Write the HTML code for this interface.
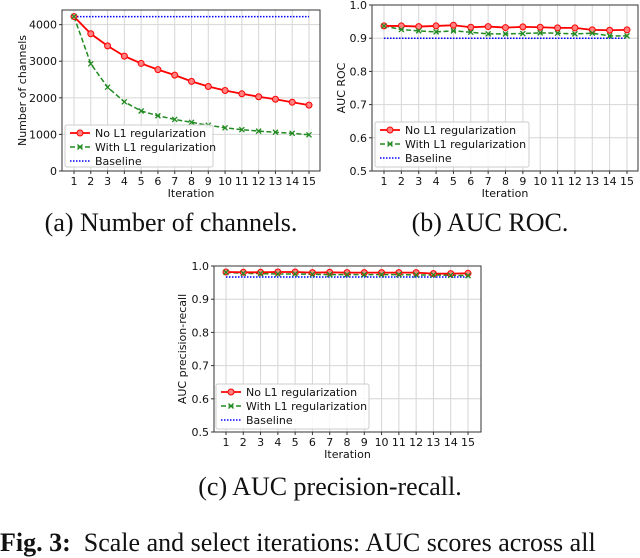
<!DOCTYPE html>
<html><head><meta charset="utf-8">
<style>
html,body{margin:0;padding:0;background:#fff;width:640px;height:536px;overflow:hidden}
svg{position:absolute;left:0;top:0}
.cap{position:absolute;font-family:"Liberation Serif",serif;font-size:26px;color:#111;white-space:nowrap;transform:translateX(-50%)}
</style></head><body>
<svg id="chart" width="640" height="536"></svg>
<div class="cap" style="left:171px;top:208px">(a) Number of channels.</div>
<div class="cap" style="left:490px;top:208px">(b) AUC ROC.</div>
<div class="cap" style="left:330px;top:472px">(c) AUC precision-recall.</div>
<div class="cap" style="left:0px;top:528px;transform:none"><b>Fig. 3:</b>&nbsp; Scale and select iterations: AUC scores across all</div>
<script>
const iterations=[1,2,3,4,5,6,7,8,9,10,11,12,13,14,15];
const chanNoL1=[4220,3750,3420,3140,2940,2770,2620,2450,2310,2200,2110,2030,1960,1880,1800];
const chanL1=[4220,2930,2290,1890,1640,1510,1410,1330,1250,1180,1130,1090,1060,1030,990];
const chanBase=[4220];
const chanTicks=[0,1000,2000,3000,4000];
const rocNoL1=[.937,.937,.935,.937,.939,.933,.935,.932,.934,.933,.931,.931,.925,.924,.925];
const rocL1=[.937,.926,.922,.919,.922,.918,.913,.913,.914,.916,.915,.913,.915,.907,.907];
const rocBase=[0.9];
const prNoL1=[.982,.981,.981,.982,.982,.980,.981,.980,.980,.980,.980,.980,.977,.977,.978];
const prL1=[.981,.978,.977,.976,.976,.975,.974,.974,.974,.974,.974,.973,.973,.972,.971];
const prBase=[0.967];
const aucTicks=[0.5,0.6,0.7,0.8,0.9,1.0];
const aucTickLabels=["0.5","0.6","0.7","0.8","0.9","1.0"];

const NS="http://www.w3.org/2000/svg";
const svg=document.getElementById('chart');
function mk(tag,attrs,parent){const e=document.createElementNS(NS,tag);for(const k in attrs)e.setAttribute(k,attrs[k]);(parent||svg).appendChild(e);return e;}
const F='"DejaVu Sans","Liberation Sans",sans-serif';

function drawChart(o){
  const g=mk('g',{});
  
  
  const xs=i=>o.x1+(i-1)*(o.x15-o.x1)/14;
  const ys=v=>o.bottom-(v-o.ymin)/(o.ymax-o.ymin)*(o.bottom-o.top);
  iterations.forEach(it=>{const l=mk('line',{x1:xs(it),x2:xs(it),y1:o.top,y2:o.bottom,stroke:'#d6d6d6','stroke-width':1},g);
    });
  o.ticks.forEach(t=>{const l=mk('line',{x1:o.left,x2:o.right,y1:ys(t),y2:ys(t),stroke:'#d6d6d6','stroke-width':1},g);
    });
  const fr=mk('rect',{x:o.left,y:o.top,width:o.right-o.left,height:o.bottom-o.top,fill:'none',stroke:'#333','stroke-width':1},g);
  
  iterations.forEach(it=>{mk('line',{x1:xs(it),x2:xs(it),y1:o.bottom,y2:o.bottom+3,stroke:'#333'},g);
    const t=mk('text',{x:xs(it),y:o.bottom+14,'font-family':F,'font-size':11,'text-anchor':'middle',fill:'#111'},g);t.textContent=it;
    });
  o.ticks.forEach((tv,i)=>{mk('line',{x1:o.left-3,x2:o.left,y1:ys(tv),y2:ys(tv),stroke:'#333'},g);
    const t=mk('text',{x:o.left-5,y:ys(tv)+4,'font-family':F,'font-size':11,'text-anchor':'end',fill:'#111'},g);t.textContent=o.tickLabels[i];
    });
  const xt=mk('text',{x:(o.left+o.right)/2,y:o.bottom+26,'font-family':F,'font-size':11,'text-anchor':'middle',fill:'#111'},g);xt.textContent='Iteration';
  
  const yt=mk('text',{x:0,y:0,'font-family':F,'font-size':11,'text-anchor':'middle',fill:'#111',transform:`translate(${o.ytx},${(o.top+o.bottom)/2}) rotate(-90)`},g);yt.textContent=o.ytitle;
  
  const bl=mk('line',{x1:xs(1),x2:xs(15),y1:ys(o.base[0]),y2:ys(o.base[0]),stroke:'#0000ff','stroke-width':1.5,'stroke-dasharray':'1.5,1.5'},g);
  
  const pg=mk('polyline',{points:o.l1.map((v,i)=>xs(iterations[i])+','+ys(v)).join(' '),fill:'none',stroke:'#228b22','stroke-width':1.5,'stroke-dasharray':'5,2.5'},g);
  
  const pr=mk('polyline',{points:o.no.map((v,i)=>xs(iterations[i])+','+ys(v)).join(' '),fill:'none',stroke:'#ff0000','stroke-width':1.8},g);
  
  o.no.forEach((v,i)=>{const c=mk('circle',{cx:xs(iterations[i]),cy:ys(v),r:3,fill:'#ff8080',stroke:'#ff0000','stroke-width':1},g);
    });
  o.l1.forEach((v,i)=>{const x=xs(iterations[i]),y=ys(v);const p=mk('path',{d:`M${x-2.5},${y-2.5}L${x+2.5},${y+2.5}M${x-2.5},${y+2.5}L${x+2.5},${y-2.5}`,stroke:'#228b22','stroke-width':1.3},g);
    });
  const L=o.leg;
  const lg=mk('g',{},g);
  mk('rect',{x:L.x,y:L.y,width:L.w,height:L.h,fill:'#fff','fill-opacity':0.85,stroke:'#ccc',rx:2},lg);
  const rows=[['No L1 regularization','red'],['With L1 regularization','green'],['Baseline','blue']];
  rows.forEach((r,i)=>{const yy=L.y+8+i*14;const e=mk('g',{},lg);
    
    const x0=L.x+5,x1=L.x+25;
    if(r[1]=='red'){mk('line',{x1:x0,x2:x1,y1:yy,y2:yy,stroke:'#f00','stroke-width':1.8},e);mk('circle',{cx:(x0+x1)/2,cy:yy,r:3,fill:'#ff8080',stroke:'#f00'},e);}
    if(r[1]=='green'){mk('line',{x1:x0,x2:x1,y1:yy,y2:yy,stroke:'#228b22','stroke-width':1.5,'stroke-dasharray':'5,2.5'},e);const c=(x0+x1)/2;mk('path',{d:`M${c-2.5},${yy-2.5}L${c+2.5},${yy+2.5}M${c-2.5},${yy+2.5}L${c+2.5},${yy-2.5}`,stroke:'#228b22','stroke-width':1.3},e);}
    if(r[1]=='blue'){mk('line',{x1:x0,x2:x1,y1:yy,y2:yy,stroke:'#00f','stroke-width':1.5,'stroke-dasharray':'1.5,1.5'},e);}
    const t=mk('text',{x:L.x+30,y:yy+4,'font-family':F,'font-size':11,fill:'#111'},e);t.textContent=r[0];});
}
drawChart({name:'chart-channels',left:62,right:320,top:10,bottom:171,x1:74,x15:309,ymin:0,ymax:4400,ticks:chanTicks,tickLabels:chanTicks.map(String),
  ytitle:'Number of channels',ytx:26,no:chanNoL1,l1:chanL1,base:chanBase,leg:{x:65,y:125,w:148,h:42}});
drawChart({name:'chart-auc-roc',left:372,right:638,top:5,bottom:171,x1:384,x15:627,ymin:0.5,ymax:1.0,ticks:aucTicks,tickLabels:aucTickLabels,
  ytitle:'AUC ROC',ytx:345,no:rocNoL1,l1:rocL1,base:rocBase,leg:{x:375,y:122,w:154,h:45}});
drawChart({name:'chart-auc-pr',left:214,right:481,top:266,bottom:432,x1:226,x15:468,ymin:0.5,ymax:1.0,ticks:aucTicks,tickLabels:aucTickLabels,
  ytitle:'AUC precision-recall',ytx:186,no:prNoL1,l1:prL1,base:prBase,leg:{x:216,y:384,w:153,h:45}});
</script>
</body></html>
